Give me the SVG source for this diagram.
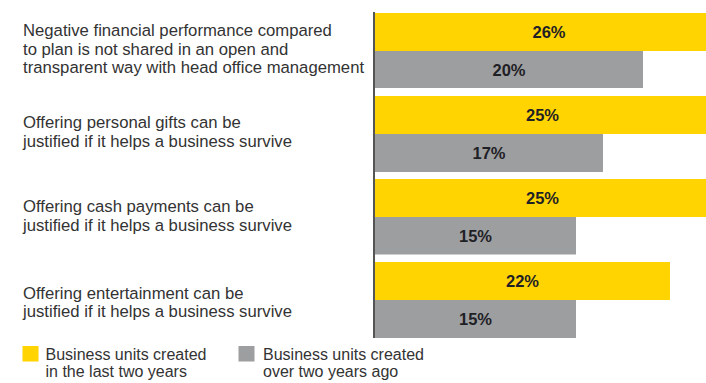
<svg xmlns="http://www.w3.org/2000/svg" width="706" height="383" viewBox="0 0 706 383">
<style>
.lbl{font-family:"Liberation Sans",Arial,sans-serif;font-size:16.7px;fill:#333333}
.leg{font-family:"Liberation Sans",Arial,sans-serif;font-size:16px;fill:#333333}
.val{font-family:"Liberation Sans",Arial,sans-serif;font-size:16.5px;font-weight:bold;fill:#1f1f26;text-anchor:middle}
.y{fill:#FFD400}
.g{fill:#9D9EA0}
</style>
<rect width="706" height="383" fill="#ffffff"/>
<g id="group1">
<text class="lbl" x="23" y="36">Negative financial performance compared</text>
<text class="lbl" x="23" y="54.5">to plan is not shared in an open and</text>
<text class="lbl" x="23" y="73">transparent way with head office management</text>
<rect class="y" x="375" y="13" width="331" height="38"/>
<rect class="g" x="375" y="51" width="268" height="37"/>
<text class="val" x="549" y="38">26%</text>
<text class="val" x="509" y="75.5">20%</text>
</g>
<g id="group2">
<text class="lbl" x="23" y="128">Offering personal gifts can be</text>
<text class="lbl" x="23" y="146.5">justified if it helps a business survive</text>
<rect class="y" x="375" y="96" width="331" height="38"/>
<rect class="g" x="375" y="134" width="228" height="38"/>
<text class="val" x="542.5" y="121">25%</text>
<text class="val" x="489" y="159">17%</text>
</g>
<g id="group3">
<text class="lbl" x="23" y="212.3">Offering cash payments can be</text>
<text class="lbl" x="23" y="230.7">justified if it helps a business survive</text>
<rect class="y" x="375" y="179" width="331" height="38"/>
<rect class="g" x="375" y="217" width="201" height="37.5"/>
<text class="val" x="542.5" y="204">25%</text>
<text class="val" x="475.5" y="241.5">15%</text>
</g>
<g id="group4">
<text class="lbl" x="23" y="299">Offering entertainment can be</text>
<text class="lbl" x="23" y="317.3">justified if it helps a business survive</text>
<rect class="y" x="375" y="262" width="295" height="38"/>
<rect class="g" x="375" y="300" width="201" height="38"/>
<text class="val" x="522.5" y="287">22%</text>
<text class="val" x="475.5" y="325">15%</text>
</g>
<g id="axis">
<line x1="374" y1="12" x2="374" y2="338" stroke="#555555" stroke-width="2"/>
</g>
<g id="legend">
<rect class="y" x="22.5" y="346" width="16" height="15.5"/>
<text class="leg" x="45.5" y="359.5">Business units created</text>
<text class="leg" x="45.5" y="377">in the last two years</text>
<rect class="g" x="238.5" y="346" width="16" height="15.5"/>
<text class="leg" x="263" y="359.5">Business units created</text>
<text class="leg" x="263" y="377">over two years ago</text>
</g>
</svg>
